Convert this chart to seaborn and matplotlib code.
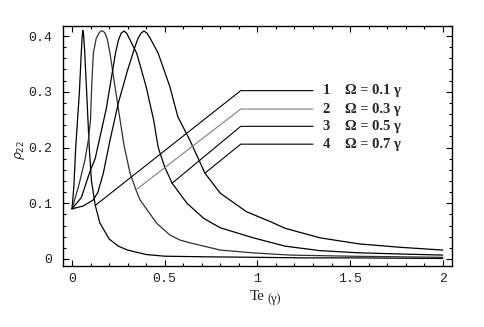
import numpy as np
import pandas as pd
import matplotlib
matplotlib.use("Agg")
import matplotlib.pyplot as plt
import seaborn as sns
from matplotlib.ticker import MultipleLocator, FuncFormatter

# values (Te in units of gamma, rho_22)
te1 = [0.0, 0.01, 0.02, 0.03, 0.04, 0.05, 0.055, 0.058, 0.062, 0.068, 0.079, 0.093,
       0.105, 0.125, 0.15, 0.2, 0.25, 0.3, 0.4, 0.5, 0.7, 1.0, 1.25, 1.5, 2.0]
rho1 = [0.09, 0.13, 0.2, 0.25, 0.3, 0.37, 0.4, 0.41, 0.405, 0.375, 0.3, 0.2,
        0.14, 0.097, 0.065, 0.036, 0.023, 0.016, 0.008, 0.005, 0.004, 0.003, 0.002,
        0.002, 0.001]

te2 = [0.0, 0.035, 0.07, 0.088, 0.1, 0.106, 0.115, 0.13, 0.145, 0.155, 0.165, 0.177,
       0.19, 0.205, 0.232, 0.259, 0.28, 0.313, 0.345, 0.367, 0.457, 0.528, 0.582,
       0.636, 0.8, 0.977, 1.175, 1.5, 2.0]
rho2 = [0.09, 0.13, 0.178, 0.213, 0.25, 0.309, 0.369, 0.395, 0.405, 0.409, 0.409, 0.406,
        0.395, 0.369, 0.309, 0.25, 0.205, 0.154, 0.124, 0.106, 0.064, 0.043, 0.034,
        0.029, 0.016, 0.011, 0.007, 0.005, 0.003]

te3 = [0.0, 0.05, 0.1, 0.125, 0.147, 0.165, 0.185, 0.21, 0.235, 0.25, 0.265, 0.28,
       0.295, 0.31, 0.349, 0.4, 0.44, 0.465, 0.5, 0.54, 0.62, 0.71, 0.8, 0.977, 1.15,
       1.337, 1.55, 1.77, 2.0]
rho3 = [0.09, 0.11, 0.16, 0.18, 0.213, 0.24, 0.27, 0.32, 0.37, 0.392, 0.405, 0.409,
        0.405, 0.395, 0.369, 0.309, 0.25, 0.2, 0.165, 0.136, 0.1, 0.073, 0.056, 0.038,
        0.023, 0.015, 0.011, 0.009, 0.007]

te4 = [0.0, 0.06, 0.115, 0.14, 0.169, 0.205, 0.25, 0.3, 0.34, 0.355, 0.372, 0.388,
       0.405, 0.425, 0.465, 0.528, 0.571, 0.636, 0.717, 0.8, 0.94, 1.07, 1.15, 1.337,
       1.55, 1.77, 2.0]
rho4 = [0.09, 0.095, 0.106, 0.12, 0.154, 0.213, 0.28, 0.339, 0.381, 0.395, 0.405, 0.409,
        0.405, 0.394, 0.369, 0.309, 0.255, 0.213, 0.154, 0.118, 0.085, 0.067, 0.055,
        0.038, 0.027, 0.021, 0.016]

curves = [(te1, rho1), (te2, rho2), (te3, rho3), (te4, rho4)]
omegas = ["0.1", "0.3", "0.5", "0.7"]

# label pointers: point on curve, elbow and end of the horizontal stroke
ptr_start = [(0.125, 0.096), (0.345, 0.124), (0.54, 0.136), (0.717, 0.154)]
label_y = [0.302, 0.269, 0.238, 0.206]
elbow_x = 0.91
end_x = 1.30

sns.set_theme(style="white")
plt.rcParams["font.family"] = ["Liberation Mono", "DejaVu Sans"]

fig = plt.figure(figsize=(4.84, 3.27), dpi=100)
ax = fig.add_axes([0.130, 0.1865, 0.804, 0.734])

curve_colors = ["black", "#303030", "black", "black"]
ptr_colors = ["black", "#808080", "black", "black"]
for (t, r), c in zip(curves, curve_colors):
    sns.lineplot(x=t, y=r, ax=ax, color=c, lw=0.9, sort=False, estimator=None)

for i, ((sx, sy), ly) in enumerate(zip(ptr_start, label_y)):
    ax.plot([sx, elbow_x, end_x], [sy, ly, ly], color=ptr_colors[i], lw=0.8)
    ax.text(1.35, ly, str(i + 1), family="Liberation Serif", fontweight="bold",
            fontsize=10.5, va="center", ha="left")
    ax.text(1.47, ly, "\u03a9 = " + omegas[i] + " \u03b3", family="Liberation Serif",
            fontweight="bold", fontsize=10.5, va="center", ha="left")

ax.set_xlim(-0.049, 2.05)
ax.set_ylim(-0.0126, 0.418)
ax.xaxis.set_major_locator(MultipleLocator(0.5))
ax.xaxis.set_minor_locator(MultipleLocator(0.1))
ax.yaxis.set_major_locator(MultipleLocator(0.1))
ax.yaxis.set_minor_locator(MultipleLocator(0.02))
ax.xaxis.set_major_formatter(FuncFormatter(lambda v, p: f"{v:g}"))
ax.yaxis.set_major_formatter(FuncFormatter(lambda v, p: f"{v:g}"))
ax.tick_params(which="both", direction="in", top=True, right=True, bottom=True,
               left=True, color="black", width=0.8, labelsize=9.5, labelcolor="#222222")
ax.tick_params(which="major", length=4.5)
ax.tick_params(which="minor", length=2.5)
ax.tick_params(axis="x", pad=5)
ax.tick_params(axis="y", pad=8)
for s in ax.spines.values():
    s.set_color("black")
    s.set_linewidth(1.0)

fig.text(0.042, 0.54, r"$\rho_{22}$", rotation=90, fontsize=9, ha="center", va="center",
         family="DejaVu Serif")
fig.text(0.546, 0.092, "Te", fontsize=11, family="Liberation Serif", ha="right", va="center")
fig.text(0.553, 0.086, "(\u03b3)", fontsize=9, family="Liberation Serif", ha="left", va="center")

fig.savefig("out.png", dpi=100)
